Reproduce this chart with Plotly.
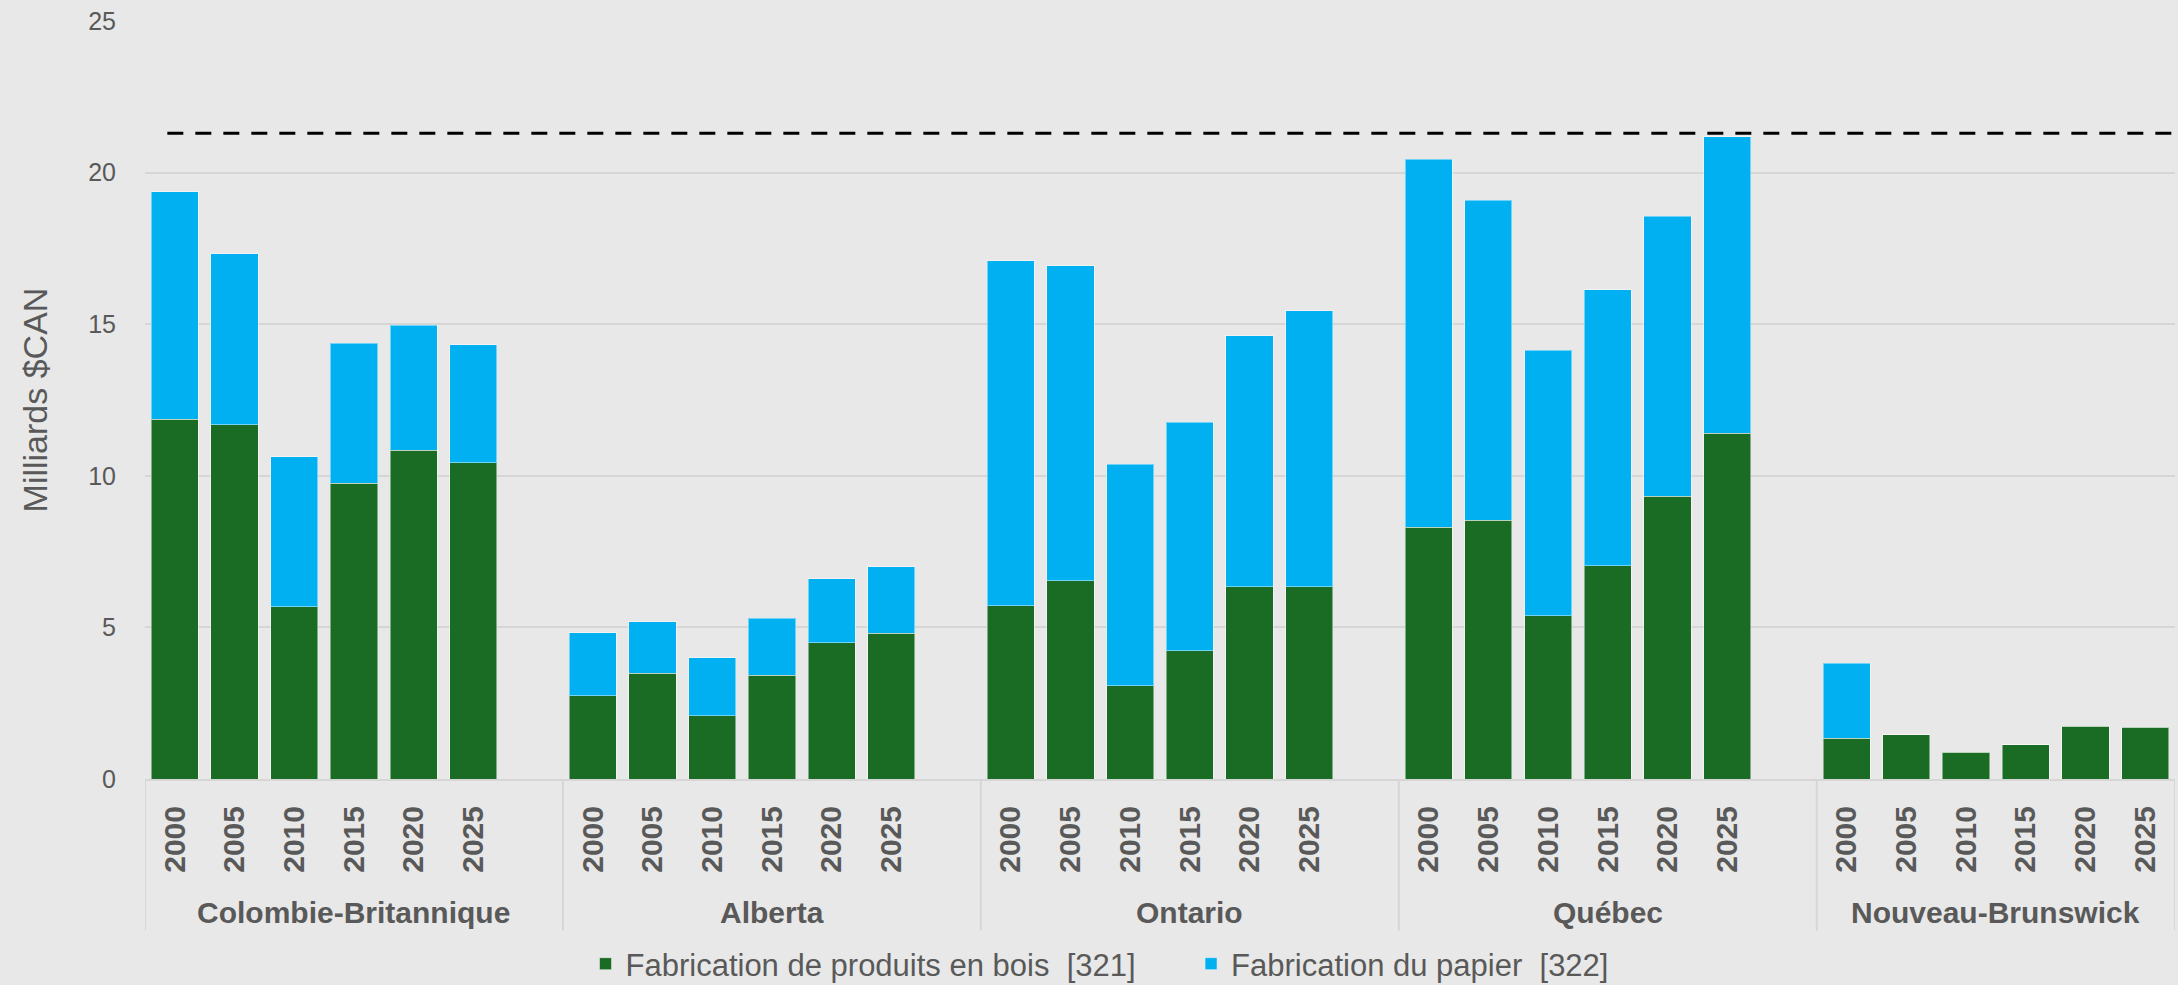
import plotly.graph_objects as go

regions = ['Colombie-Britannique', 'Alberta', 'Ontario', 'Québec', 'Nouveau-Brunswick']
annees = ['2000', '2005', '2010', '2015', '2020', '2025']

# Fabrication de produits en bois [321], milliards $CAN
bois_cb = [11.86, 11.69, 5.68, 9.76, 10.84, 10.43]
bois_ab = [2.74, 3.49, 2.08, 3.43, 4.49, 4.81]
bois_on = [5.71, 6.54, 3.08, 4.23, 6.34, 6.34]
bois_qc = [8.31, 8.54, 5.39, 7.04, 9.32, 11.41]
bois_nb = [1.34, 1.46, 0.88, 1.13, 1.74, 1.71]

# Fabrication du papier [322], milliards $CAN
papier_cb = [7.51, 5.63, 4.95, 4.62, 4.12, 3.89]
papier_ab = [2.09, 1.69, 1.92, 1.88, 2.12, 2.19]
papier_on = [11.38, 10.38, 7.30, 7.53, 8.28, 9.10]
papier_qc = [12.13, 10.54, 8.75, 9.09, 9.24, 9.77]
papier_nb = [2.47, 0, 0, 0, 0, 0]

seuil = 21.3

bois = [bois_cb, bois_ab, bois_on, bois_qc, bois_nb]
papier = [papier_cb, papier_ab, papier_on, papier_qc, papier_nb]

vert = '#1a6b24'
bleu = '#00b0f0'
gris_texte = '#595959'
fond = '#e8e8e8'
grille = '#d6d6d6'
police = 'Liberation Sans'

# une case vide entre chaque province
pas = len(annees) + 1

x_pos, y_bois, y_papier, tick_vals, tick_text = [], [], [], [], []
for i, reg in enumerate(regions):
    for j, an in enumerate(annees):
        x_pos.append(i * pas + j)
        y_bois.append(bois[i][j])
        y_papier.append(papier[i][j])
        tick_vals.append(i * pas + j)
        tick_text.append('<b>' + an + '</b>')

fig = go.Figure()

fig.add_trace(go.Bar(
    x=x_pos,
    y=y_bois,
    name='Fabrication de produits en bois \u00a0[321]',
    legend='legend',
    marker=dict(color=vert, line=dict(color='rgba(255,255,255,0.45)', width=1))
))

fig.add_trace(go.Bar(
    x=x_pos,
    y=y_papier,
    name='Fabrication du papier \u00a0[322]',
    legend='legend2',
    marker=dict(color=bleu, line=dict(color='rgba(255,255,255,0.45)', width=1))
))

x_fin = (len(regions) - 1) * pas + len(annees) - 0.5

# ligne pointillée de référence
fig.add_shape(type='line', xref='paper', yref='y',
              x0=0.011, x1=1, y0=seuil, y1=seuil,
              line=dict(color='black', width=3, dash='16px,12px'))

# séparateurs des groupes et noms des provinces
bords = [i * pas - 0.5 for i in range(len(regions))] + [x_fin]
for b in bords:
    fig.add_shape(type='line', xref='x', yref='paper',
                  x0=b, x1=b, y0=0, y1=-0.2,
                  line=dict(color=grille, width=2))

for i, reg in enumerate(regions):
    debut = i * pas - 0.5
    fin = min(debut + pas, x_fin)
    fig.add_annotation(
        x=(debut + fin) / 2, y=-0.1755, xref='x', yref='paper',
        text='<b>' + reg + '</b>', showarrow=False,
        font=dict(family=police, size=30, color=gris_texte),
        xanchor='center', yanchor='middle'
    )

legende = dict(
    orientation='h',
    xanchor='left',
    y=-0.2441,
    yanchor='middle',
    font=dict(size=31, color=gris_texte),
    bgcolor='rgba(0,0,0,0)'
)

fig.update_layout(
    width=2178,
    height=985,
    autosize=False,
    barmode='stack',
    bargap=0.21,
    # marges fixes : la légende ne doit pas rétrécir le graphique
    margin=dict(l=145, r=3, t=21, b=206, autoexpand=False),
    plot_bgcolor=fond,
    paper_bgcolor=fond,
    font=dict(family=police, color=gris_texte, size=26),
    showlegend=True,
    legend=dict(legende, x=0.217),
    legend2=dict(legende, x=0.5153),
    xaxis=dict(
        range=[-0.5, x_fin],
        tickvals=tick_vals,
        ticktext=tick_text,
        tickangle=-90,
        tickfont=dict(size=30, color=gris_texte),
        ticks='',
        ticklabelstandoff=13,
        showgrid=False,
        zeroline=False,
        showline=True,
        linecolor=grille,
        linewidth=2
    ),
    yaxis=dict(
        range=[0, 25],
        tickvals=[0, 5, 10, 15, 20, 25],
        tickfont=dict(size=25, color=gris_texte),
        showgrid=True,
        gridcolor=grille,
        gridwidth=2,
        zeroline=False,
        ticklabelstandoff=28,
        title=dict(text='Milliards $CAN', font=dict(size=34, color=gris_texte), standoff=30)
    )
)

fig.write_html('out.html', config={'displayModeBar': False},
               post_script="document.body.style.margin='0px';")
